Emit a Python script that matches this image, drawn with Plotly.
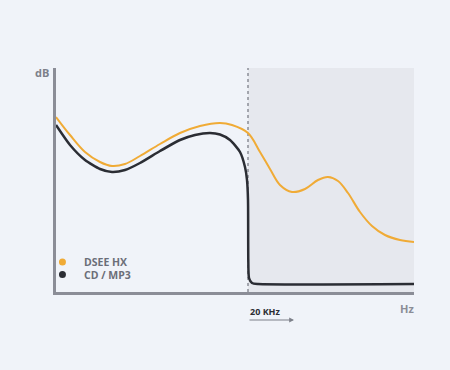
import plotly.graph_objects as go

# Frequency position (arbitrary units, 0..358) and level (arbitrary dB units, 0..224)
dsee_x = [0, 14, 29, 44, 56, 69, 84, 104, 124, 144, 164, 176, 192, 204, 214, 224, 236, 249, 262, 272, 282, 292, 304, 316, 329, 344, 358]
dsee_y = [175, 157, 140, 130, 126, 128, 136, 148, 159, 166, 169, 167, 159, 140, 123, 107, 100, 103, 112, 115, 111, 99, 80, 66, 57, 52, 50]

cd_x = [0, 14, 29, 44, 56, 69, 84, 104, 124, 139, 154, 164, 174, 184, 189, 191, 192, 192.3, 193, 196, 202, 358]
cd_y = [167, 147, 132, 123, 120, 122, 129, 141, 152, 157, 159, 157.5, 152, 140, 125, 112, 92, 32, 14, 9, 8, 8]

cutoff = 192
x_range = [0, 358]
y_range = [0, 224]

legend_names = ["DSEE HX", "CD / MP3"]
colors = ["#f0ab36", "#2b2d34"]
axis_gray = "#8b8d97"
bg = "#f0f3f9"
shade = "#e6e8ee"

fig = go.Figure()
fig.add_trace(go.Scatter(x=dsee_x, y=dsee_y, mode="lines", line=dict(color=colors[0], width=2, shape="spline", smoothing=1.0), name=legend_names[0], showlegend=False, hoverinfo="skip"))
fig.add_trace(go.Scatter(x=cd_x, y=cd_y, mode="lines", line=dict(color=colors[1], width=2.5, shape="spline", smoothing=0.6), name=legend_names[1], showlegend=False, hoverinfo="skip"))

fig.add_shape(type="rect", xref="x", yref="y", x0=cutoff, x1=x_range[1], y0=y_range[0], y1=y_range[1],
              fillcolor=shade, line=dict(width=0), layer="below")
fig.add_shape(type="line", xref="x", yref="y", x0=cutoff, x1=cutoff, y0=y_range[0], y1=y_range[1],
              line=dict(color=axis_gray, width=1.5, dash="dot"), layer="below")

fig.update_layout(
    width=450, height=370,
    margin=dict(l=56, r=36, t=68, b=78),
    paper_bgcolor=bg, plot_bgcolor=bg,
    font=dict(family="Open Sans", color="#6b6e78"),
    xaxis=dict(range=x_range, showgrid=False, zeroline=False, showticklabels=False, ticks="",
               showline=True, linecolor=axis_gray, linewidth=3, fixedrange=True),
    yaxis=dict(range=y_range, showgrid=False, zeroline=False, showticklabels=False, ticks="",
               showline=True, linecolor=axis_gray, linewidth=3, fixedrange=True),
)

ann = []
ann.append(dict(text="<b>dB</b>", xref="paper", yref="paper", x=-0.015, y=0.978, xanchor="right", yanchor="middle",
                showarrow=False, font=dict(size=11, color="#7d808a")))
ann.append(dict(text="<b>Hz</b>", xref="paper", yref="paper", x=1.005, y=-0.075, xanchor="right", yanchor="middle",
                showarrow=False, font=dict(size=11, color="#8b8d97")))
for i, (nm, c) in enumerate(zip(legend_names, colors)):
    yc = 0.134 - i * 0.056
    fig.add_shape(type="circle", xref="paper", yref="paper",
                  x0=-3.5, x1=3.5, y0=-3.5, y1=3.5, xsizemode="pixel", ysizemode="pixel",
                  xanchor=0.018, yanchor=yc, fillcolor=c, line=dict(width=0))
    ann.append(dict(text=f"<b>{nm}</b>", xref="paper", yref="paper",
                    x=0.074, y=yc, xanchor="left", yanchor="middle", showarrow=False,
                    font=dict(size=10.5, color="#6b6e78")))
ann.append(dict(text="<b>20 KHz</b>", xref="x", yref="paper", x=cutoff, y=-0.085, xanchor="left", yanchor="middle",
                showarrow=False, font=dict(size=9, color="#2b2d34")))
ann.append(dict(x=cutoff + 46, y=-0.125, ax=cutoff, ay=0, xref="x", yref="paper", axref="x", ayref="pixel",
                text="", showarrow=True, arrowhead=2, arrowsize=0.8, arrowwidth=1.2, arrowcolor="#7d808a"))
fig.update_layout(annotations=ann, hovermode=False)

fig.write_html("out.html", config={"displayModeBar": False},
               post_script="document.body.style.margin='0';document.body.style.background='" + bg + "';")
